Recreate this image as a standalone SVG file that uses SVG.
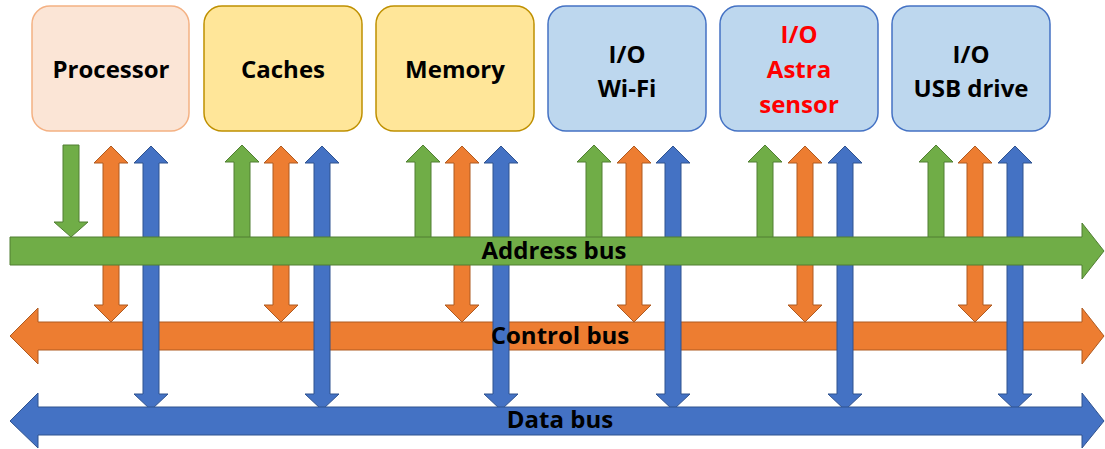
<svg xmlns="http://www.w3.org/2000/svg" width="1105" height="449" viewBox="0 0 1105 449">
<style>
.box{stroke-width:1.5}
.proc{fill:#FBE5D6;stroke:#F4B183}
.mem{fill:#FFE699;stroke:#BF9000}
.io{fill:#BDD7EE;stroke:#4472C4}
.t{font-family:"Open Sans","Liberation Sans",sans-serif;font-weight:700;font-size:24px;text-anchor:middle;fill:#000}
.red{fill:#FF0000}
.g{fill:#70AD47;stroke:#507E32;stroke-width:1}
.o{fill:#ED7D31;stroke:#AE5A21;stroke-width:1}
.b{fill:#4472C4;stroke:#2F528F;stroke-width:1}
</style>
<g id="connectors">
<!-- control bus -->
<polygon id="control-bus" class="o" points="10,336 38,308 38,322 1082,322 1082,308 1104,336 1082,364 1082,350 38,350 38,364"/>
<!-- orange double arrows -->
<g id="orange-arrows">
<polygon class="o" points="103,163 94,163 111,146 128,163 119,163 119,305 128,305 111,322 94,305 103,305"/>
<polygon class="o" points="273,163 264,163 281,146 298,163 289,163 289,305 298,305 281,322 264,305 273,305"/>
<polygon class="o" points="454,163 445,163 462,146 479,163 470,163 470,305 479,305 462,322 445,305 454,305"/>
<polygon class="o" points="626,163 617,163 634,146 651,163 642,163 642,305 651,305 634,322 617,305 626,305"/>
<polygon class="o" points="797,163 788,163 805,146 822,163 813,163 813,305 822,305 805,322 788,305 797,305"/>
<polygon class="o" points="967,163 958,163 975,146 992,163 983,163 983,305 992,305 975,322 958,305 967,305"/>
</g>
<!-- blue double arrows -->
<g id="blue-arrows">
<polygon class="b" points="143,163 134,163 151,146 168,163 159,163 159,394 168,394 151,410 134,394 143,394"/>
<polygon class="b" points="314,163 305,163 322,146 339,163 330,163 330,394 339,394 322,410 305,394 314,394"/>
<polygon class="b" points="493,163 484,163 501,146 518,163 509,163 509,394 518,394 501,410 484,394 493,394"/>
<polygon class="b" points="665,163 656,163 673,146 690,163 681,163 681,394 690,394 673,410 656,394 665,394"/>
<polygon class="b" points="837,163 828,163 845,146 862,163 853,163 853,394 862,394 845,410 828,394 837,394"/>
<polygon class="b" points="1007,163 998,163 1015,146 1032,163 1023,163 1023,394 1032,394 1015,410 998,394 1007,394"/>
</g>
<!-- green arrows -->
<g id="green-arrows">
<polygon class="g" points="63,145 79,145 79,222 88,222 71,237 54,222 63,222"/>
<polygon class="g" points="234,162 225,162 242,145 259,162 250,162 250,238 234,238"/>
<polygon class="g" points="415,162 406,162 423,145 440,162 431,162 431,238 415,238"/>
<polygon class="g" points="586,162 577,162 594,145 611,162 602,162 602,238 586,238"/>
<polygon class="g" points="757,162 748,162 765,145 782,162 773,162 773,238 757,238"/>
<polygon class="g" points="928,162 919,162 936,145 953,162 944,162 944,238 928,238"/>
</g>
<!-- address bus -->
<polygon id="address-bus" class="g" points="10,237 1082,237 1082,223 1104,251 1082,279 1082,265 10,265"/>
<!-- data bus -->
<polygon id="data-bus" class="b" points="10,421 38,393 38,407 1082,407 1082,393 1104,421 1082,448 1082,435 38,435 38,448"/>
<text class="t" x="554" y="259">Address bus</text>
<text class="t" x="560" y="344">Control bus</text>
<text class="t" x="560" y="428">Data bus</text>
</g>
<g id="processor">
<rect class="box proc" x="32" y="6" width="157" height="125" rx="18"/>
<text class="t" x="111" y="78">Processor</text>
</g>
<g id="caches">
<rect class="box mem" x="204" y="6" width="158" height="125" rx="18"/>
<text class="t" x="283" y="78">Caches</text>
</g>
<g id="memory">
<rect class="box mem" x="376" y="6" width="158" height="125" rx="18"/>
<text class="t" x="455" y="78">Memory</text>
</g>
<g id="io-wifi">
<rect class="box io" x="548" y="6" width="158" height="125" rx="18"/>
<text class="t" x="627" y="63">I/O</text>
<text class="t" x="627" y="97">Wi-Fi</text>
</g>
<g id="io-astra">
<rect class="box io" x="720" y="6" width="158" height="125" rx="18"/>
<text class="t red" x="799" y="43">I/O</text>
<text class="t red" x="799" y="78">Astra</text>
<text class="t red" x="799" y="113">sensor</text>
</g>
<g id="io-usb">
<rect class="box io" x="892" y="6" width="158" height="125" rx="18"/>
<text class="t" x="971" y="63">I/O</text>
<text class="t" x="971" y="97">USB drive</text>
</g>
</svg>
